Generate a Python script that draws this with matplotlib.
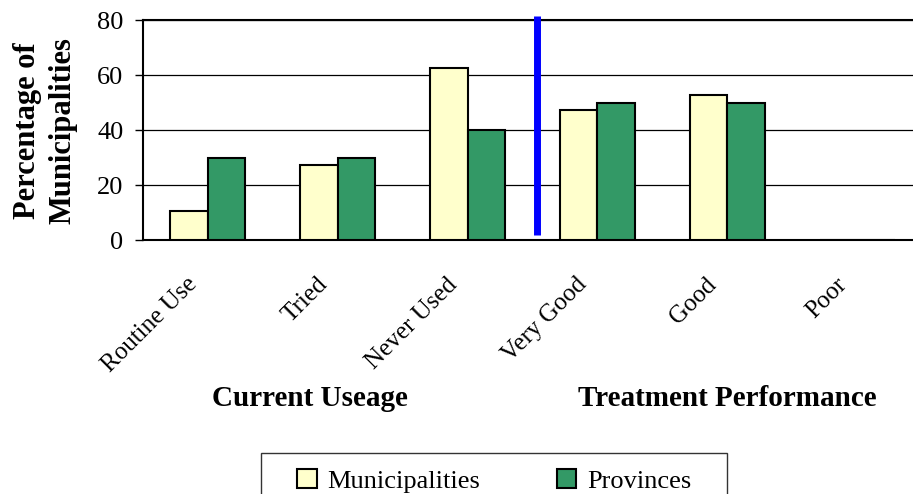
import matplotlib
matplotlib.use("Agg")
import matplotlib.pyplot as plt
import matplotlib.transforms as mtransforms
from matplotlib.patches import Rectangle
import numpy as np

plt.rcParams['font.family'] = ['Liberation Serif', 'DejaVu Serif']

# data
categories = ['Routine Use', 'Tried', 'Never Used', 'Very Good', 'Good', 'Poor']
municipalities = [10.5, 27.3, 62.5, 47.3, 52.7, 0]
provinces = [30, 30, 40, 50, 50, 0]
yticks = [0, 20, 40, 60, 80]

muni_color = '#FFFFCC'
prov_color = '#339966'

fig = plt.figure(figsize=(9.13, 4.94), dpi=100)
# plot area runs a little past the right edge of the picture
ax = fig.add_axes([143 / 913, 0.514, 779 / 913, 0.4455])

x = np.arange(len(categories))
w = 0.289
ax.bar(x - w / 2, municipalities, w, color=muni_color, edgecolor='black', linewidth=1.5, zorder=3, label='Municipalities')
ax.bar(x + w / 2, provinces, w, color=prov_color, edgecolor='black', linewidth=1.5, zorder=3, label='Provinces')

ax.set_xlim(-0.5, len(categories) - 0.5)
ax.set_ylim(0, 80)
ax.set_yticks(yticks)
ax.yaxis.grid(True, color='black', linewidth=0.9, zorder=0)
ax.set_axisbelow(True)

ax.spines['right'].set_visible(False)
ax.spines['top'].set_linewidth(1.5)
ax.spines['left'].set_linewidth(1.5)
ax.spines['bottom'].set_linewidth(1.5)

ax.tick_params(axis='y', direction='out', length=6, width=1, pad=8, labelsize=19)
ax.tick_params(axis='x', length=0, pad=24, labelsize=18)
ax.set_xticks(x)
ax.set_xticklabels(categories, rotation=45, ha='right', va='top')
shift = mtransforms.ScaledTranslation(-6 / 100, 0, fig.dpi_scale_trans)
for lbl in ax.get_xticklabels():
    lbl.set_transform(lbl.get_transform() + shift)

# blue divider between the two groups
ax.plot([2.533, 2.533], [1.8, 81.6], color='#0000FF', linewidth=5, solid_capstyle='butt', clip_on=False, zorder=4)

fig.text(45 / 913, 1 - 131 / 494, 'Percentage of\nMunicipalities', rotation=90, ha='center', va='center',
         multialignment='center', fontsize=22, fontweight='bold', linespacing=1.3)
fig.text(310 / 913, 1 - 405.7 / 494, 'Current Useage', ha='center', va='baseline', fontsize=21, fontweight='bold')
fig.text(727 / 913, 1 - 405.7 / 494, 'Treatment Performance', ha='center', va='baseline', fontsize=21, fontweight='bold')

leg = fig.legend(loc='upper center', bbox_to_anchor=(494 / 913, 1 - 453 / 494), ncol=2, fontsize=19,
                 frameon=False, columnspacing=2.9,
                 handlelength=0.75, handleheight=0.75, handletextpad=0.4, borderpad=0.6, borderaxespad=0)
# legend box is wider than its contents and cut off at the bottom
fig.patches.append(Rectangle((261 / 913, -0.1), 466 / 913, (494 - 453) / 494 + 0.1, transform=fig.transFigure,
                             fill=False, edgecolor='#333333', linewidth=1))

fig.savefig('out.png', dpi=100)
